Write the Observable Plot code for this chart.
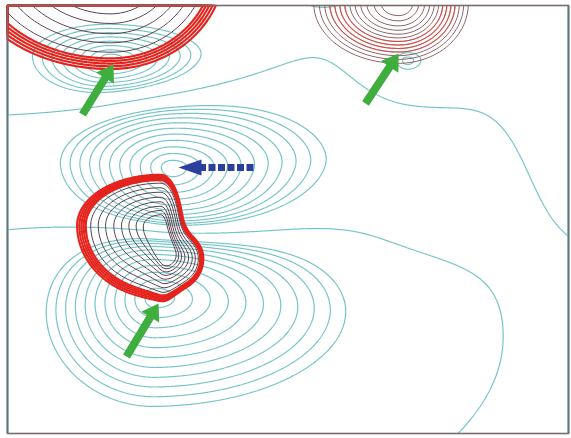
<!DOCTYPE html>
<html>
<head>
<meta charset="utf-8">
<script src="https://cdn.jsdelivr.net/npm/d3@7"></script>
<script src="https://cdn.jsdelivr.net/npm/@observablehq/plot@0.6"></script>
<style>
  body { margin: 0; background: #ffffff; }
</style>
</head>
<body>
<div id="chart"></div>
<script>
// Map extent (x to the right, y downward)
const mapW = 561, mapH = 428;

// Potential field (cyan): skewed exponential sources; the last three are broad background terms
const potX   = [103, 165, 148, 400, 640, 400, 561];
const potY   = [ 53, 162, 292,  55,  80, 200, 300];
const potQ   = [0.5, -1.0, 1.0, 0.13, 0.09, -0.04, -0.0127];
const potSxL = [ 46,  52,  48,  30,  90, 130, 150];
const potSxR = [ 60,  65,  88,  35,  90, 130, 150];
const potSyT = [ 20,  32,  46,  20,  90, 130, 150];
const potSyB = [ 27,  45,  45,  25,  90, 130, 150];
const potLevels = [-0.745, -0.596, -0.477, -0.381, -0.305, -0.244, -0.195, -0.156, -0.125, -0.10, -0.08,
                   0,
                   0.08, 0.10, 0.125, 0.156, 0.195, 0.244, 0.305, 0.381, 0.477, 0.596, 0.745];

// Density field (red): skewed Gaussian peaks of the two strong features
const denX   = [103, 153, 178];
const denY   = [-40, 220, 253];
const denAmp = [1.0, 1.0, 0.6];
const denSxL = [137,  78,  25];
const denSxR = [107,  20,  22];
const denSyT = [ 60,  47,  25];
const denSyB = [ 97,  68,  30];
const edgeLevels  = [0.32, 0.34, 0.36, 0.38, 0.40];
const innerLevels = [0.45, 0.53, 0.61, 0.70, 0.78, 0.85, 0.91, 0.96];

// Weaker feature at the upper right
const weakX = [391], weakY = [-2], weakAmp = [1.0];
const weakSxL = [85], weakSxR = [70], weakSyT = [20], weakSyB = [60];
const weakLevels = [0.37, 0.42, 0.47, 0.52, 0.57, 0.62, 0.67, 0.72, 0.77, 0.82, 0.87, 0.92, 0.96];
const weakRedLevels = [0.52, 0.57, 0.62, 0.67];

// Arrows
const greenTailX = [ 75, 358, 119];
const greenTailY = [109,  98, 351];
const greenTipX  = [106, 391, 151];
const greenTipY  = [ 59,  48, 298];
const blueTailX = [246], blueTailY = [162];
const blueTipX  = [171], blueTipY  = [162];

function skewDist(x, y, cx, cy, sxl, sxr, syt, syb) {
  const dx = (x - cx) / (x < cx ? sxl : sxr);
  const dy = (y - cy) / (y < cy ? syt : syb);
  return Math.sqrt(dx * dx + dy * dy);
}

const potential = (x, y) => {
  let v = 0;
  for (let i = 0; i < potX.length; i++) {
    v += potQ[i] * Math.exp(-skewDist(x, y, potX[i], potY[i], potSxL[i], potSxR[i], potSyT[i], potSyB[i]));
  }
  return v;
};

function gaussianField(X, Y, A, SXL, SXR, SYT, SYB) {
  return (x, y) => {
    let v = 0;
    for (let i = 0; i < X.length; i++) {
      const d = skewDist(x, y, X[i], Y[i], SXL[i], SXR[i], SYT[i], SYB[i]);
      v += A[i] * Math.exp(-d * d);
    }
    return v;
  };
}
const density = gaussianField(denX, denY, denAmp, denSxL, denSxR, denSyT, denSyB);
const weakDensity = gaussianField(weakX, weakY, weakAmp, weakSxL, weakSxR, weakSyT, weakSyB);

// Arrow tables: shaft ends where the head begins
function arrowTable(tx, ty, hx, hy, headLen) {
  return tx.map((_, i) => {
    const dx = hx[i] - tx[i], dy = hy[i] - ty[i];
    const len = Math.hypot(dx, dy);
    const ux = dx / len, uy = dy / len;
    return {
      x1: tx[i], y1: ty[i],
      x2: hx[i] - ux * headLen, y2: hy[i] - uy * headLen,
      tipX: hx[i], tipY: hy[i],
      angle: Math.atan2(ux, -uy) * 180 / Math.PI
    };
  });
}
const greenArrows = arrowTable(greenTailX, greenTailY, greenTipX, greenTipY, 15);
const blueArrows = arrowTable(blueTailX, blueTailY, blueTipX, blueTipY, 22);

// Arrowhead with its apex at the anchor point, pointing up before rotation
function headSymbol(lenK, halfK) {
  return {
    draw(context, size) {
      const r = Math.sqrt(size / Math.PI);
      context.moveTo(0, 0);
      context.lineTo(halfK * r, lenK * r);
      context.lineTo(-halfK * r, lenK * r);
      context.closePath();
    }
  };
}

const extent = {x1: 0, y1: 0, x2: mapW, y2: mapH};

const chart = Plot.plot({
  width: 571,
  height: 438,
  marginLeft: 7,
  marginRight: 3,
  marginTop: 5,
  marginBottom: 5,
  x: {domain: [0, mapW], axis: null},
  y: {domain: [0, mapH], reverse: true, axis: null},
  marks: [
    Plot.contour({...extent, value: potential, thresholds: potLevels, pixelSize: 1,
      fill: "none", stroke: "#78c5c9", strokeWidth: 1.2}),
    Plot.contour({...extent, value: weakDensity, thresholds: weakLevels, pixelSize: 1,
      fill: "none", stroke: "#8e6468", strokeWidth: 1}),
    Plot.contour({...extent, value: weakDensity, thresholds: weakRedLevels, pixelSize: 1,
      fill: "none", stroke: "#e8463f", strokeWidth: 1.2, strokeOpacity: 0.7}),
    Plot.contour({...extent, value: density, thresholds: edgeLevels, pixelSize: 1,
      fill: "none", stroke: "#e5231d", strokeWidth: 2.2}),
    Plot.contour({...extent, value: density, thresholds: innerLevels, pixelSize: 1,
      fill: "none", stroke: "#5e4250", strokeWidth: 1}),
    Plot.link(greenArrows, {x1: "x1", y1: "y1", x2: "x2", y2: "y2",
      stroke: "#3fae3f", strokeWidth: 8, strokeLinecap: "butt"}),
    Plot.dot(greenArrows, {x: "tipX", y: "tipY", rotate: "angle", r: 10,
      symbol: headSymbol(1.6, 1.05), fill: "#3fae3f", stroke: "none"}),
    Plot.link(blueArrows, {x1: "x1", y1: "y1", x2: "x2", y2: "y2",
      stroke: "#2c3f9c", strokeWidth: 7, strokeDasharray: "7,2.5", strokeLinecap: "butt"}),
    Plot.dot(blueArrows, {x: "tipX", y: "tipY", rotate: "angle", r: 10,
      symbol: headSymbol(2.3, 0.8), fill: "#2c3f9c", stroke: "none"}),
    Plot.frame({stroke: "#7a6c6c", strokeWidth: 1.6})
  ]
});

document.getElementById("chart").appendChild(chart);
</script>
</body>
</html>
